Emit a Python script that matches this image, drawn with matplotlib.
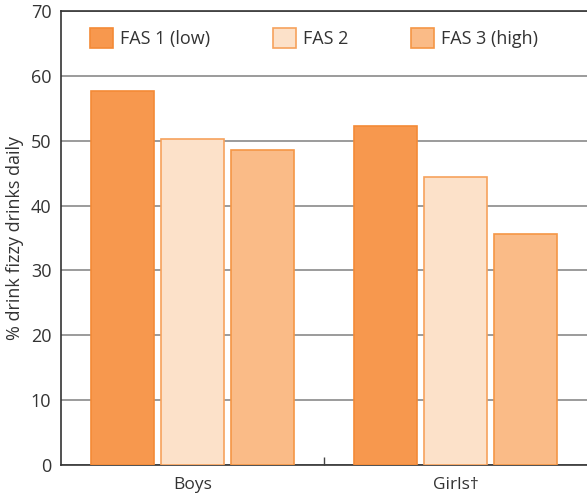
import numpy as np
import matplotlib.pyplot as plt

plt.rcParams['font.family'] = ['Open Sans', 'DejaVu Sans']

groups = ['Boys', 'Girls†']
series = ['FAS 1 (low)', 'FAS 2', 'FAS 3 (high)']
values = [
    [57.7, 52.3],   # FAS 1
    [50.3, 44.4],   # FAS 2
    [48.6, 35.6],   # FAS 3
]
fills = ['#f7984e', '#fce1c9', '#fabb87']
edges = ['#f48a36', '#f6a25c', '#f59645']

fig = plt.figure(figsize=(5.87, 4.98), dpi=100)
ax = fig.add_axes([0.104, 0.066, 0.896, 0.912])

x = np.arange(len(groups))
w = 0.242
step = 0.2666
for i, s in enumerate(series):
    ax.bar(x + (i - 1) * step, values[i], width=w, color=fills[i],
           edgecolor=edges[i], linewidth=1.2, label=s, zorder=3)

ax.set_xlim(-0.5, 1.5)
ax.set_ylim(0, 70)
ax.set_yticks(range(0, 71, 10))
ax.yaxis.grid(True, color='#8a8a8a', linewidth=1.2, zorder=0)
ax.set_axisbelow(True)

ax.set_xticks([0.5])
ax.set_xticklabels([''])
ax.tick_params(axis='x', direction='in', length=6, width=1, color='#444444')
ax.tick_params(axis='y', length=0, pad=7, labelsize=13, labelcolor='#333333')
for g, xi in zip(groups, x):
    ax.text(xi, -1.9, g, ha='center', va='top', fontsize=12.5, color='#333333')

for side in ['left', 'bottom', 'top']:
    ax.spines[side].set_color('#333333')
    ax.spines[side].set_linewidth(1.2)
ax.spines['right'].set_visible(False)

ax.set_ylabel('% drink fizzy drinks daily', fontsize=13, color='#333333', labelpad=5)

leg = ax.legend(loc='upper left', ncol=3, frameon=False, fontsize=13,
                bbox_to_anchor=(0.0551, 0.962), borderaxespad=0, borderpad=0,
                handlelength=1.28, handleheight=1.28,
                columnspacing=3.45, handletextpad=0.4)
for t in leg.get_texts():
    t.set_color('#333333')

fig.savefig('out.png', dpi=100)
